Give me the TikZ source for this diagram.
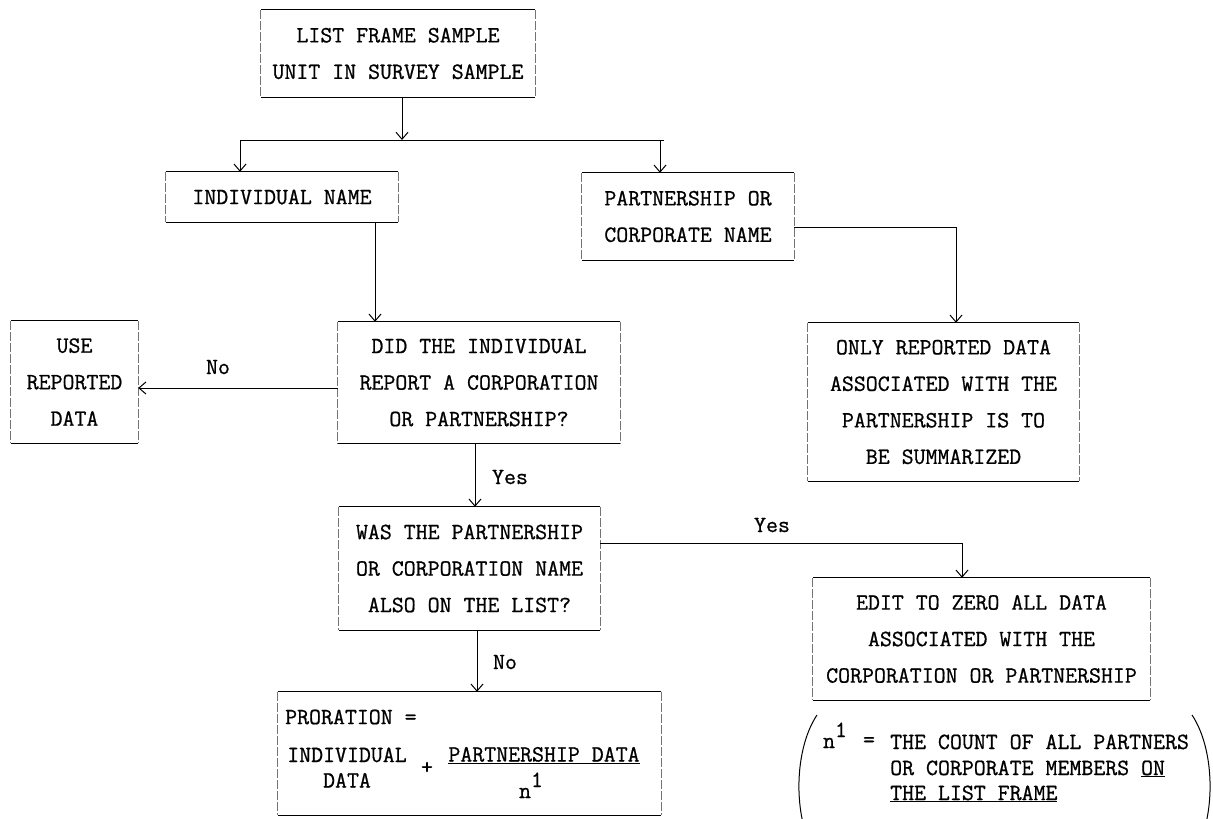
\documentclass[tikz,border=0pt]{standalone}
\usepackage{fontspec}
\usetikzlibrary{arrows.meta}

% typewritten face, slightly heavier than the plain mono
\newfontfamily\typewriterface{Latin Modern Mono}[FakeBold=0.8]

% typewriter-style flowchart: 1 unit = 1pt, y grows downward
\tikzset{
  tw/.style={font=\typewriterface\fontsize{23.2}{36.5}\selectfont},
  twtight/.style={font=\typewriterface\fontsize{23.2}{25.5}\selectfont},
  flowbox/.style={tw, inner sep=0pt, align=center},
  lbl/.style={tw, inner sep=0pt},
  conn/.style={line width=1pt},
  arr/.style={conn, -{Straight Barb[length=7pt,width=12pt,line width=1pt]}},
  hedge/.style={line width=1.1pt},
  vedge/.style={line width=0.8pt, black!55, dash pattern=on 9pt off 2pt},
}
% frame a box: solid top and bottom rules, lighter sides
\newcommand\flowframe[1]{%
  \draw[hedge] (#1.north west) -- (#1.north east) (#1.south west) -- (#1.south east);
  \draw[vedge] (#1.north west) -- (#1.south west) (#1.north east) -- (#1.south east);
}
\newcommand\suponemark{\raisebox{11pt}{1}}

\begin{document}
\begin{tikzpicture}[x=1pt,y=-1pt]
\fill[white] (0,0) rectangle (1213,819);
\useasboundingbox (0,0) rectangle (1213,819);
\clip (0,0) rectangle (1213,819);

% boxes
\node[flowbox, minimum width=274pt, minimum height=87pt] (top) at (398,53.5)
  {LIST FRAME SAMPLE\\UNIT IN SURVEY SAMPLE};
\node[flowbox, minimum width=232pt, minimum height=50pt] (ind) at (282,197)
  {INDIVIDUAL NAME};
\node[flowbox, minimum width=212pt, minimum height=87pt] (part) at (688,216.5)
  {PARTNERSHIP OR\\CORPORATE NAME};
\node[flowbox, minimum width=271pt, minimum height=158pt] (only) at (943.5,402)
  {ONLY REPORTED DATA\\ASSOCIATED WITH THE\\PARTNERSHIP IS TO\\BE SUMMARIZED};
\node[flowbox, minimum width=282pt, minimum height=121pt] (did) at (479,382.5)
  {DID THE INDIVIDUAL\\REPORT A CORPORATION\\OR PARTNERSHIP?};
\node[flowbox, minimum width=127pt, minimum height=122pt] (use) at (74.5,382)
  {USE\\REPORTED\\DATA};
\node[flowbox, minimum width=261pt, minimum height=123pt] (was) at (469.5,568.5)
  {WAS THE PARTNERSHIP\\OR CORPORATION NAME\\ALSO ON THE LIST?};
\node[flowbox, minimum width=337pt, minimum height=122pt] (edit) at (981.5,639)
  {EDIT TO ZERO ALL DATA\\ASSOCIATED WITH THE\\CORPORATION OR PARTNERSHIP};
\node[flowbox, minimum width=383pt, minimum height=123pt] (pror) at (469.5,753.5) {};

\foreach \b in {top,ind,part,only,did,use,was,edit,pror} {\flowframe{\b}}

% proration formula
\node[lbl, anchor=west] (prlhs) at (285,717) {PRORATION =};
\node[lbl, twtight, align=center] (prind) at (347,767.5) {INDIVIDUAL\\DATA};
\node[lbl] (prplus) at (427,768) {+};
\node[lbl, anchor=base] (prnum) at (544,761.5) {\underline{PARTNERSHIP DATA}};
\node[lbl, anchor=base] (prden) at (531,798) {n\suponemark};

% connectors
\coordinate (split) at (402,140);
\coordinate (barL) at (240,140);
\coordinate (barR) at (664,140);
\coordinate (pdrop) at (660,140);
\draw[arr] (top.south -| split) -- (split);
\draw[conn] (barL) -- (barR);
\draw[arr] (barL) -- (ind.north -| barL);
\draw[arr] (pdrop) -- (part.north -| pdrop);

\coordinate (colA) at (375,0);
\draw[arr] (ind.south -| colA) -- (did.north -| colA);

\coordinate (pturn) at (956,227);
\draw[arr] (part.east |- pturn) -- (pturn) -- (only.north -| pturn);

\coordinate (norow) at (0,388);
\draw[arr] (did.west |- norow) -- (use.east |- norow);
\node[lbl] (noA) at (218,367) {No};

\coordinate (colB) at (475,0);
\draw[arr] (did.south -| colB) -- (was.north -| colB);
\node[lbl] (yesA) at (510,477) {Yes};

\coordinate (eturn) at (962,543);
\draw[arr] (was.east |- eturn) -- (eturn) -- (edit.north -| eturn);
\node[lbl] (yesB) at (772,525) {Yes};

\coordinate (colC) at (477,0);
\draw[arr] (was.south -| colC) -- (pror.north -| colC);
\node[lbl] (noB) at (505,662) {No};

% footnote in large parentheses
\draw[line width=1pt] (817,715) .. controls (797,745) and (793,800) .. (808,840);
\draw[line width=1pt] (1192,715) .. controls (1212,745) and (1216,800) .. (1201,840);
\node[lbl, anchor=base] (ndef) at (835,748) {n\suponemark};
\node[lbl] (ndefeq) at (869,742) {=};
\node[lbl, anchor=base west] (nl1) at (890,749) {THE COUNT OF ALL PARTNERS};
\node[lbl, anchor=base west] (nl2) at (890,775) {OR CORPORATE MEMBERS \underline{ON}};
\node[lbl, anchor=base west] (nl3) at (890,800) {\underline{THE LIST FRAME}};
\end{tikzpicture}
\end{document}
